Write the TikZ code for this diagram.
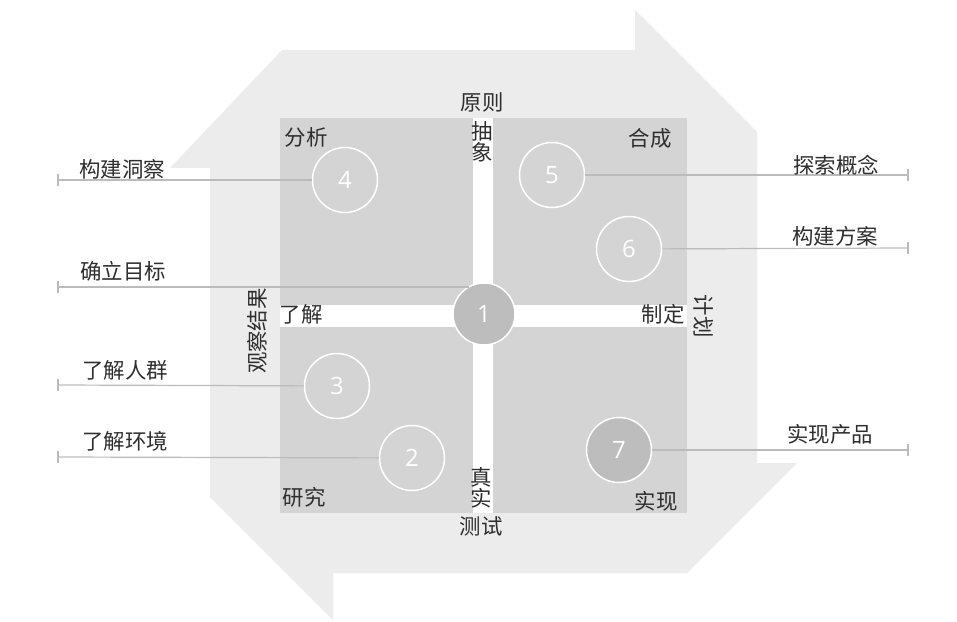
\documentclass[tikz,border=0pt]{standalone}
\usepackage{fontspec}
\newfontfamily\cjk{Noto Sans CJK SC}
\newfontfamily\numf{Open Sans}
\usetikzlibrary{calc}
\definecolor{shapegray}{HTML}{ECECEC}
\definecolor{sqgray}{HTML}{D4D4D4}
\definecolor{circfill}{HTML}{BDBDBD}
\definecolor{txt}{HTML}{2E2E2E}
\definecolor{linec}{HTML}{BBBBBB}
\tikzset{
  lbl/.style={font=\cjk\fontsize{21.5}{21}\selectfont, text=txt, inner sep=0pt},
  vlbl/.style={lbl, align=center},
  quad/.style={fill=sqgray, draw=none, inner sep=0pt, anchor=north west},
  num/.style={circle, draw=white, line width=1.5bp, minimum size=65bp, inner sep=0pt,
    font=\numf\fontsize{24}{24}\selectfont, text=white},
  numfilled/.style={num, fill=circfill},
  conn/.style={draw=linec, line width=1.2bp},
}
\begin{document}
\begin{tikzpicture}[x=1bp,y=-1bp]
\useasboundingbox (0,0) rectangle (957,622);
\fill[white] (0,0) rectangle (957,622);
% large arrow-ring shape
\fill[shapegray] (282,50) -- (635,50) -- (635,10) -- (757,132) -- (757,463) -- (797,463)
  -- (687,573) -- (333,573) -- (333,620) -- (210,497) -- (210,168) -- (170,168) -- cycle;
% white cross and four quadrants
\node[fill=white, inner sep=0pt, minimum width=407bp, minimum height=395bp, anchor=north west] (cross) at (280,118) {};
\node[quad, minimum width=193bp, minimum height=187bp] (qTL) at (280,118) {};
\node[quad, minimum width=194bp, minimum height=187bp] (qTR) at (493,118) {};
\node[quad, minimum width=193bp, minimum height=186bp] (qBL) at (280,327) {};
\node[quad, minimum width=194bp, minimum height=186bp] (qBR) at (493,327) {};
% circles
\node[numfilled, minimum size=62bp] (c1) at (484,314) {1};
\node[num] (c2) at (412,458) {2};
\node[num] (c3) at (337,386) {3};
\node[num] (c4) at (345,180) {4};
\node[num] (c5) at (552,175) {5};
\node[num] (c6) at (629,249) {6};
\node[numfilled] (c7) at (619,450) {7};
% tick end points
\coordinate (tL1) at (58,180);
\coordinate (tL2) at (58,287);
\coordinate (tL3) at (58,385);
\coordinate (tL4) at (58,457);
\coordinate (tR1) at (908,175);
\coordinate (tR2) at (908,248);
\coordinate (tR3) at (908,450);
% connectors
\draw[conn] (tL1) -- (c4);
\draw[conn] (tL2) -- (tL2 -| c1.119);
\draw[conn] (tL3) -- (c3);
\draw[conn] (tL4) -- (c2);
\draw[conn] (c5) -- (tR1);
\draw[conn] (c6) -- (tR2);
\draw[conn] (c7) -- (tR3);
\foreach \t in {tL1,tL2,tL3,tL4,tR1,tR2,tR3}{
  \draw[conn] ([yshift=6bp]\t) -- ([yshift=-6bp]\t);
}
% side labels
\node[lbl, anchor=west] (lb1) at (79,169) {构建洞察};
\node[lbl, anchor=west] (lb2) at (80,271) {确立目标};
\node[lbl, anchor=west] (lb3) at (82,370) {了解人群};
\node[lbl, anchor=west] (lb4) at (82,441) {了解环境};
\node[lbl] (rb1) at (836,165) {探索概念};
\node[lbl] (rb2) at (835,236) {构建方案};
\node[lbl] (rb3) at (830,434) {实现产品};
% inner labels
\node[lbl] (yz) at (482,102) {原则};
\node[vlbl] (cx) at (482,142) {抽\\象};
\node[lbl] (fx) at (306,137) {分析};
\node[lbl] (hc) at (650,138) {合成};
\node[lbl] (lj) at (301,314) {了解};
\node[lbl] (zd) at (663,314) {制定};
\node[lbl, rotate=-90] (jh) at (704,316) {计划};
\node[lbl, rotate=90] (gc) at (257,331) {观察结果};
\node[lbl] (yj) at (304,497) {研究};
\node[lbl] (sx) at (656,501) {实现};
\node[vlbl] (zs) at (481,488) {真\\实};
\node[lbl] (cs) at (481,526) {测试};
\end{tikzpicture}
\end{document}
